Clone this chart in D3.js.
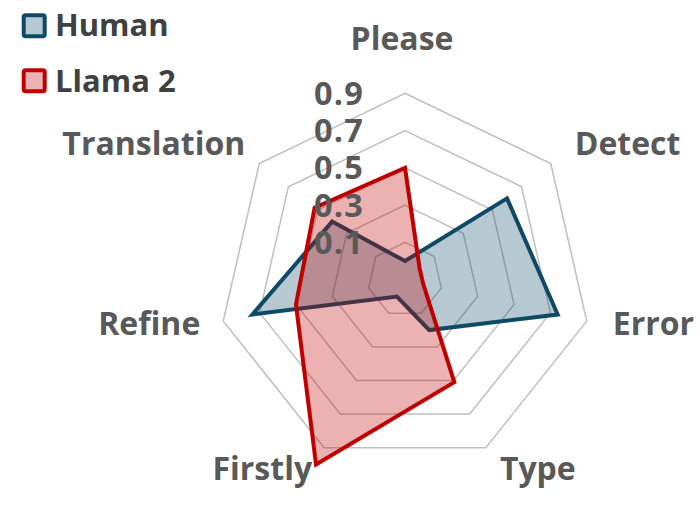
<!DOCTYPE html>
<html>
<head>
<meta charset="utf-8">
<script src="https://cdn.jsdelivr.net/npm/d3@7/dist/d3.min.js"></script>
<style>
  html, body { margin: 0; padding: 0; background: #ffffff; }
  svg { display: block; }
</style>
</head>
<body>
<svg id="chart" width="700" height="505"></svg>
<script>
// ---- data ----
const categories = ["Please", "Detect", "Error", "Type", "Firstly", "Refine", "Translation"];
const humanValues = [0.0, 0.60, 0.74, 0.20, 0.0, 0.74, 0.40];
const llamaValues = [0.50, 0.0, 0.0, 0.51, 1.0, 0.50, 0.52];
const tickValues = [0.1, 0.3, 0.5, 0.7, 0.9];
const tickLabels = ["0.1", "0.3", "0.5", "0.7", "0.9"];
const seriesNames = ["Human", "Llama 2"];

// ---- layout ----
const W = 700, H = 505;
const cx = 405, cy = 279.7, R = 186.4;
const colors = ["#0E4A66", "#C00000"];
const font = "'Open Sans', 'Noto Sans', sans-serif";

const svg = d3.select("#chart");
const r = d3.scaleLinear().domain([-0.1, 0.9]).range([0, R]);
const angle = d3.scalePoint().domain(categories).range([0, 2 * Math.PI * (categories.length - 1) / categories.length]);

const g = svg.append("g").attr("transform", `translate(${cx},${cy})`);

// grid rings
const ringLine = d3.lineRadial().curve(d3.curveLinearClosed);
tickValues.forEach(t => {
  g.append("path")
    .attr("d", ringLine(categories.map(c => [angle(c), r(t)])))
    .attr("fill", "none")
    .attr("stroke", "#BFBFBF")
    .attr("stroke-width", 1.5);
});

// series areas
const radarLine = d3.lineRadial()
  .angle(d => angle(d.c))
  .radius(d => r(d.v))
  .curve(d3.curveLinearClosed);

[humanValues, llamaValues].forEach((vals, i) => {
  const pts = categories.map((c, k) => ({ c, v: vals[k] }));
  g.append("path")
    .attr("d", radarLine(pts))
    .attr("fill", colors[i])
    .attr("fill-opacity", 0.3)
    .attr("stroke", colors[i])
    .attr("stroke-width", 4)
    .attr("stroke-linejoin", "miter")
    .attr("stroke-miterlimit", 20);
});

// tick labels
tickValues.forEach((t, k) => {
  g.append("text")
    .attr("x", -41)
    .attr("y", -r(t) + 11.5)
    .attr("text-anchor", "end")
    .attr("font-family", font)
    .attr("font-weight", "bold")
    .attr("font-size", 32.5)
    .attr("letter-spacing", 1.2)
    .attr("fill", "#595959")
    .text(tickLabels[k]);
});

// category labels: offset from the outer ring vertex
const labelNudge = {
  "Please": [-3, -43, "middle"],
  "Detect": [24, -8.5, "start"],
  "Error": [26, 14, "start"],
  "Type": [14, 32, "start"],
  "Firstly": [-12, 32, "end"],
  "Refine": [-23, 14, "end"],
  "Translation": [-14, -8.5, "end"]
};
categories.forEach(c => {
  const a = angle(c);
  const vx = Math.sin(a) * R, vy = -Math.cos(a) * R;
  const n = labelNudge[c];
  g.append("text")
    .attr("x", vx + n[0])
    .attr("y", vy + n[1])
    .attr("text-anchor", n[2])
    .attr("font-family", font)
    .attr("font-weight", "bold")
    .attr("font-size", 32)
    .attr("fill", "#595959")
    .text(c);
});

// legend
const legend = svg.append("g");
seriesNames.forEach((name, i) => {
  const y0 = 15.3 + i * 55;
  legend.append("rect")
    .attr("x", 23.7).attr("y", y0)
    .attr("width", 21).attr("height", 21)
    .attr("rx", 2)
    .attr("fill", colors[i]).attr("fill-opacity", 0.3)
    .attr("stroke", colors[i]).attr("stroke-width", 4);
  legend.append("text")
    .attr("x", 55)
    .attr("y", 36 + i * 56)
    .attr("font-family", font)
    .attr("font-weight", "bold")
    .attr("font-size", 31)
    .attr("fill", "#404040")
    .text(name);
});
</script>
</body>
</html>
